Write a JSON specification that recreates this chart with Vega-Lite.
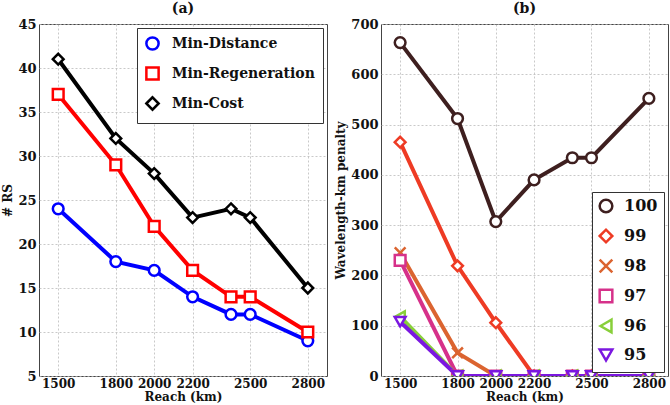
{
  "$schema": "https://vega.github.io/schema/vega-lite/v6.json",
  "padding": {"left": 1, "top": 1, "right": 0, "bottom": 0},
  "background": "white",
  "spacing": 6,
  "resolve": {"scale": {"color": "independent", "shape": "independent"}, "legend": {"color": "independent", "shape": "independent"}},
  "config": {
    "font": "DejaVu Serif",
    "view": {"stroke": "#444", "strokeWidth": 1},
    "axis": {
      "labelFont": "DejaVu Serif", "labelFontWeight": "bold", "labelFontSize": 13, "labelColor": "#111",
      "titleFont": "DejaVu Serif", "titleFontWeight": "bold", "titleFontSize": 12, "titleColor": "#111",
      "gridDash": [2, 2], "gridColor": "#bbbbbb", "gridWidth": 0.8, "domain": false, "ticks": false, "labelPadding": 3
    },
    "axisX": {"labelFontSize": 12, "labelPadding": 2},
    "title": {"font": "DejaVu Serif", "fontWeight": "bold", "fontSize": 14, "color": "#111", "offset": 2},
    "legend": {
      "labelFont": "DejaVu Serif", "labelFontWeight": "bold", "labelColor": "#111",
      "strokeColor": "#333", "fillColor": "white", "padding": 6, "symbolStrokeWidth": 2.5, "symbolFillColor": "white"
    }
  },
  "datasets": {
    "left": [
      {"method": "Min-Distance", "reach": 1500, "rs": 24},
      {"method": "Min-Distance", "reach": 1800, "rs": 18},
      {"method": "Min-Distance", "reach": 2000, "rs": 17},
      {"method": "Min-Distance", "reach": 2200, "rs": 14},
      {"method": "Min-Distance", "reach": 2400, "rs": 12},
      {"method": "Min-Distance", "reach": 2500, "rs": 12},
      {"method": "Min-Distance", "reach": 2800, "rs": 9},
      {"method": "Min-Regeneration", "reach": 1500, "rs": 37},
      {"method": "Min-Regeneration", "reach": 1800, "rs": 29},
      {"method": "Min-Regeneration", "reach": 2000, "rs": 22},
      {"method": "Min-Regeneration", "reach": 2200, "rs": 17},
      {"method": "Min-Regeneration", "reach": 2400, "rs": 14},
      {"method": "Min-Regeneration", "reach": 2500, "rs": 14},
      {"method": "Min-Regeneration", "reach": 2800, "rs": 10},
      {"method": "Min-Cost", "reach": 1500, "rs": 41},
      {"method": "Min-Cost", "reach": 1800, "rs": 32},
      {"method": "Min-Cost", "reach": 2000, "rs": 28},
      {"method": "Min-Cost", "reach": 2200, "rs": 23},
      {"method": "Min-Cost", "reach": 2400, "rs": 24},
      {"method": "Min-Cost", "reach": 2500, "rs": 23},
      {"method": "Min-Cost", "reach": 2800, "rs": 15}
    ],
    "right": [
      {"series": "100", "reach": 1500, "penalty": 663},
      {"series": "100", "reach": 1800, "penalty": 512},
      {"series": "100", "reach": 2000, "penalty": 307},
      {"series": "100", "reach": 2200, "penalty": 390},
      {"series": "100", "reach": 2400, "penalty": 434},
      {"series": "100", "reach": 2500, "penalty": 434},
      {"series": "100", "reach": 2800, "penalty": 552},
      {"series": "99", "reach": 1500, "penalty": 465},
      {"series": "99", "reach": 1800, "penalty": 219},
      {"series": "99", "reach": 2000, "penalty": 106},
      {"series": "99", "reach": 2200, "penalty": 0},
      {"series": "99", "reach": 2400, "penalty": 0},
      {"series": "99", "reach": 2500, "penalty": 0},
      {"series": "99", "reach": 2800, "penalty": 0},
      {"series": "98", "reach": 1500, "penalty": 245},
      {"series": "98", "reach": 1800, "penalty": 46},
      {"series": "98", "reach": 2000, "penalty": 0},
      {"series": "98", "reach": 2200, "penalty": 0},
      {"series": "98", "reach": 2400, "penalty": 0},
      {"series": "98", "reach": 2500, "penalty": 0},
      {"series": "98", "reach": 2800, "penalty": 0},
      {"series": "97", "reach": 1500, "penalty": 230},
      {"series": "97", "reach": 1800, "penalty": 0},
      {"series": "97", "reach": 2000, "penalty": 0},
      {"series": "97", "reach": 2200, "penalty": 0},
      {"series": "97", "reach": 2400, "penalty": 0},
      {"series": "97", "reach": 2500, "penalty": 0},
      {"series": "97", "reach": 2800, "penalty": 0},
      {"series": "96", "reach": 1500, "penalty": 118},
      {"series": "96", "reach": 1800, "penalty": 0},
      {"series": "96", "reach": 2000, "penalty": 0},
      {"series": "96", "reach": 2200, "penalty": 0},
      {"series": "96", "reach": 2400, "penalty": 0},
      {"series": "96", "reach": 2500, "penalty": 0},
      {"series": "96", "reach": 2800, "penalty": 0},
      {"series": "95", "reach": 1500, "penalty": 108},
      {"series": "95", "reach": 1800, "penalty": 0},
      {"series": "95", "reach": 2000, "penalty": 0},
      {"series": "95", "reach": 2200, "penalty": 0},
      {"series": "95", "reach": 2400, "penalty": 0},
      {"series": "95", "reach": 2500, "penalty": 0},
      {"series": "95", "reach": 2800, "penalty": 0}
    ]
  },
  "hconcat": [
    {
      "width": 288, "height": 352,
      "title": "(a)",
      "data": {"name": "left"},
      "encoding": {
        "x": {"field": "reach", "type": "quantitative", "scale": {"domain": [1400, 2900], "nice": false},
              "axis": {"values": [1500, 1800, 2000, 2200, 2500, 2800], "title": "Reach (km)", "titlePadding": 2, "format": "d"}},
        "y": {"field": "rs", "type": "quantitative", "scale": {"domain": [5, 45], "nice": false},
              "axis": {"values": [5, 10, 15, 20, 25, 30, 35, 40, 45], "title": "# RS", "titlePadding": 3}},
        "color": {"field": "method", "type": "nominal",
                  "scale": {"domain": ["Min-Distance", "Min-Regeneration", "Min-Cost"], "range": ["#0000ff", "#ff0000", "#000000"]},
                  "legend": {"orient": "top-right", "title": null, "labelFontSize": 14, "symbolSize": 150, "offset": 4, "rowPadding": 7, "labelOffset": 12, "padding": 8}}
      },
      "layer": [
        {"mark": {"type": "line", "strokeWidth": 4}},
        {"mark": {"type": "point", "filled": false, "fill": "white", "fillOpacity": 1, "opacity": 1, "size": 115, "strokeWidth": 2.5},
         "encoding": {"shape": {"field": "method", "type": "nominal",
                                "scale": {"domain": ["Min-Distance", "Min-Regeneration", "Min-Cost"], "range": ["circle", "square", "diamond"]},
                                "legend": {"orient": "top-right", "title": null, "labelFontSize": 14, "symbolSize": 150, "offset": 4, "rowPadding": 7, "labelOffset": 12, "padding": 8}}}}
      ]
    },
    {
      "width": 287, "height": 352,
      "title": "(b)",
      "data": {"name": "right"},
      "encoding": {
        "x": {"field": "reach", "type": "quantitative", "scale": {"domain": [1400, 2900], "nice": false},
              "axis": {"values": [1500, 1800, 2000, 2200, 2500, 2800], "title": "Reach (km)", "titlePadding": 2, "format": "d"}},
        "y": {"field": "penalty", "type": "quantitative", "scale": {"domain": [0, 700], "nice": false},
              "axis": {"values": [0, 100, 200, 300, 400, 500, 600, 700], "title": "Wavelength-km penalty", "titlePadding": 3}},
        "color": {"field": "series", "type": "nominal",
                  "scale": {"domain": ["100", "99", "98", "97", "96", "95"], "range": ["#3e1f1f", "#ee3b24", "#db6430", "#d6318a", "#88cf3a", "#7b17e0"]},
                  "legend": {"orient": "bottom-right", "title": null, "labelFontSize": 16, "symbolSize": 160, "offset": 4, "rowPadding": 6, "labelOffset": 10}}
      },
      "layer": [
        {"mark": {"type": "line", "strokeWidth": 4, "clip": true}},
        {"mark": {"type": "point", "filled": false, "fill": "white", "fillOpacity": 1, "opacity": 1, "size": 115, "strokeWidth": 2.5, "clip": true},
         "encoding": {"shape": {"field": "series", "type": "nominal",
                                "scale": {"domain": ["100", "99", "98", "97", "96", "95"], "range": ["circle", "diamond", "M-1,-1L1,1M1,-1L-1,1", "square", "triangle-left", "triangle-down"]},
                                "legend": {"orient": "bottom-right", "title": null, "labelFontSize": 16, "symbolSize": 160, "offset": 4, "rowPadding": 6, "labelOffset": 10}}}}
      ]
    }
  ]
}
